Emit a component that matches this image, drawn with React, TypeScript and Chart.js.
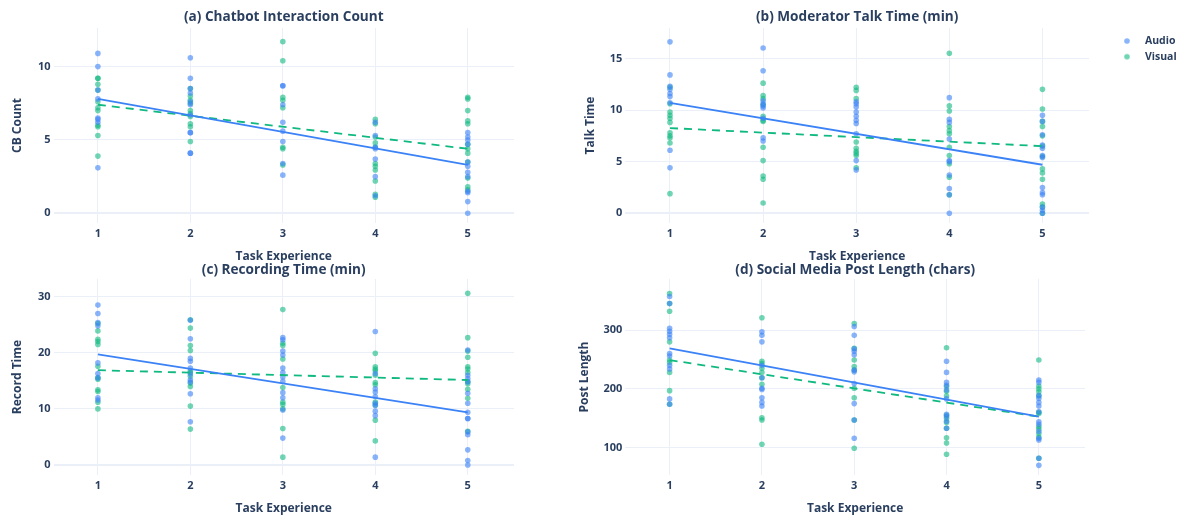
import React, { useEffect, useRef } from 'react';
import { Chart, registerables } from 'chart.js';

Chart.register(...registerables);

// ---------- data ----------
const taskLevels = [1, 2, 3, 4, 5];
const fitX = [1, 5];

// (a) Chatbot Interaction Count
const cbAudio = [
  [10.9, 10.0, 8.4, 7.8, 6.5, 6.4, 6.2, 3.1],
  [10.6, 9.2, 8.5, 8.2, 7.6, 7.4, 6.7, 5.5, 5.5, 4.1, 4.1],
  [8.7, 8.7, 7.4, 6.2, 5.6, 4.9, 3.4, 2.6],
  [6.2, 5.3, 4.5, 4.4, 3.7, 2.5, 1.2],
  [5.5, 5.2, 5.0, 4.7, 3.5, 3.2, 2.8, 2.5, 1.5, 1.4, 0.8, 0],
];
const cbVisual = [
  [9.2, 9.2, 8.8, 8.4, 7.6, 7.2, 7.0, 6.0, 5.9, 5.3, 3.9],
  [8.5, 8.0, 7.7, 7.5, 7.0, 6.8, 6.6, 6.1, 5.9, 4.9],
  [11.7, 10.4, 7.9, 7.7, 7.2, 4.5, 4.4, 3.3],
  [6.4, 6.1, 5.2, 4.8, 4.5, 3.4, 3.2, 2.95, 2.2, 1.3, 1.1],
  [7.9, 7.8, 7.0, 6.3, 6.1, 4.7, 4.4, 4.1, 3.5, 2.4, 1.8, 1.6],
];
const cbAudioFit = [7.8, 3.3];
const cbVisualFit = [7.4, 4.4];
const cbTicks = [0, 5, 10];
const cbRange = [-0.66, 12.63];

// (b) Moderator Talk Time (min)
const talkAudio = [
  [16.6, 13.4, 12.3, 12.0, 11.6, 11.3, 10.7, 6.1, 4.4],
  [16.0, 13.8, 10.9, 10.6, 10.4, 10.2, 9.2, 7.3, 7.0],
  [10.8, 10.6, 10.3, 9.8, 9.4, 9.0, 8.7, 7.7, 5.1, 4.2],
  [11.2, 9.1, 8.8, 7.2, 5.1, 5.0, 3.7, 2.4, 1.8, 0],
  [9.5, 8.9, 7.6, 6.6, 6.3, 5.6, 5.4, 2.5, 2.0, 1.8, 0.6, 0.3, 0],
];
const talkVisual = [
  [12.2, 10.6, 9.8, 9.5, 9.2, 8.8, 7.8, 7.5, 7.3, 6.8, 1.9],
  [12.6, 11.4, 11.1, 10.5, 9.4, 9.0, 8.9, 6.4, 5.1, 3.6, 3.3, 1.0],
  [12.2, 11.9, 11.1, 6.9, 6.3, 6.0, 5.8, 5.6, 4.4],
  [15.5, 10.4, 9.9, 8.4, 8.0, 7.7, 6.4, 5.6, 4.8, 3.5, 1.8],
  [12.0, 10.1, 8.9, 8.4, 7.5, 6.5, 5.5, 4.3, 3.9, 3.3, 0.9, 0.6, 0],
];
const talkAudioFit = [10.7, 4.7];
const talkVisualFit = [8.25, 6.5];
const talkTicks = [0, 5, 10, 15];
const talkRange = [-0.94, 17.94];

// (c) Recording Time (min)
const recAudio = [
  [28.5, 27.0, 25.4, 24.8, 18.2, 16.3, 15.5, 12.0, 11.6],
  [25.8, 22.5, 19.0, 18.5, 17.3, 16.2, 15.2, 14.8, 12.7, 7.7],
  [22.7, 22.3, 20.3, 19.6, 17.3, 16.5, 15.7, 14.9, 12.9, 12.0, 9.8, 4.8],
  [23.8, 16.3, 13.6, 13.0, 12.2, 11.0, 10.6, 9.6, 8.8, 1.4],
  [20.5, 16.0, 15.4, 14.8, 12.8, 11.0, 9.4, 8.3, 8.3, 5.9, 5.4, 2.7, 0.8, 0],
];
const recVisual = [
  [25.2, 23.9, 22.4, 22.0, 21.5, 17.6, 15.6, 15.3, 13.4, 13.1, 11.2, 10.0],
  [25.9, 24.4, 21.3, 20.4, 16.8, 16.5, 15.8, 14.6, 14.0, 10.5, 6.4],
  [27.7, 21.7, 21.3, 18.9, 13.8, 11.2, 10.8, 10.0, 6.5, 1.4],
  [19.9, 17.5, 17.1, 16.8, 16.0, 14.7, 14.3, 11.2, 10.7, 8.0, 4.3],
  [30.6, 22.7, 20.3, 19.2, 17.5, 17.1, 16.5, 14.9, 14.5, 13.5, 11.9, 6.0],
];
const recAudioFit = [19.7, 9.4];
const recVisualFit = [16.9, 15.15];
const recTicks = [0, 10, 20, 30];
const recRange = [-1.78, 33.15];

// (d) Social Media Post Length (chars)
const postAudio = [
  [357, 345, 303, 298, 293, 287, 260, 256, 240, 234, 183, 174],
  [297, 291, 280, 240, 219, 201, 199, 185, 177, 171],
  [306, 291, 268, 264, 258, 232, 229, 209, 175, 147, 116],
  [247, 228, 211, 206, 198, 183, 157, 153, 145, 133],
  [215, 211, 189, 184, 177, 171, 161, 144, 140, 128, 116, 113, 82, 70],
];
const postVisual = [
  [362, 345, 332, 280, 249, 245, 228, 197, 174],
  [321, 247, 243, 235, 228, 219, 208, 151, 147, 106],
  [311, 269, 249, 238, 232, 201, 185, 147, 99],
  [270, 204, 196, 188, 155, 150, 143, 133, 117, 108, 89],
  [249, 205, 200, 195, 188, 160, 158, 136, 132, 124, 118, 82],
];
const postAudioFit = [268.8, 152.7];
const postVisualFit = [249, 152.7];
const postTicks = [100, 200, 300];
const postRange = [53.6, 386.8];

// ---------- style ----------
const FONT = '"Open Sans", "Noto Sans", sans-serif';
const TEXT = '#2a3f5f';
const GRID = '#EBF0F8';
const AUDIO = '#3b82f6';
const VISUAL = '#10b981';
const AUDIO_FILL = 'rgba(59,130,246,0.6)';
const VISUAL_FILL = 'rgba(16,185,129,0.6)';
const MARKER_R = 2.8;

function makeMarker(color: string) {
  const c = document.createElement('canvas');
  c.width = 30;
  c.height = 8;
  const g = c.getContext('2d');
  if (g) {
    g.fillStyle = color;
    g.beginPath();
    g.arc(25, 4, MARKER_R, 0, Math.PI * 2);
    g.fill();
  }
  return c;
}

type PanelProps = {
  left: number;
  top: number;
  width: number;
  height: number;
  title: string;
  yTitle: string;
  range: number[];
  yTicks: number[];
  audio: number[][];
  visual: number[][];
  audioFit: number[];
  visualFit: number[];
  yAxisWidth: number;
  yTitlePad: number;
  xAxisHeight: number;
  xTitlePad: number;
  titlePad: { top: number; bottom: number };
  showLegend?: boolean;
};

function Panel(p: PanelProps) {
  const ref = useRef<HTMLCanvasElement | null>(null);
  useEffect(() => {
    const canvas = ref.current;
    if (!canvas) return;
    const axisFont = { family: FONT, size: 12, weight: 'bold' as const };
    const tickFont = { family: FONT, size: 11, weight: 'bold' as const };
    const legendFont = { family: FONT, size: 10.5, weight: 'bold' as const };
    const toPoints = (groups: number[][]) =>
      groups.flatMap((vals, i) => vals.map((v) => ({ x: taskLevels[i], y: v })));
    const toLine = (fit: number[]) => fitX.map((x, i) => ({ x, y: fit[i] }));
    const markers = [makeMarker(AUDIO_FILL), makeMarker(VISUAL_FILL)];

    const chart = new Chart(canvas, {
      type: 'scatter',
      data: {
        datasets: [
          {
            label: 'Audio',
            data: toPoints(p.audio),
            pointBackgroundColor: AUDIO_FILL,
            backgroundColor: AUDIO_FILL,
            pointBorderWidth: 0,
            pointBorderColor: 'rgba(0,0,0,0)',
            pointRadius: MARKER_R,
            order: 2,
          },
          {
            label: 'Visual',
            data: toPoints(p.visual),
            pointBackgroundColor: VISUAL_FILL,
            backgroundColor: VISUAL_FILL,
            pointBorderWidth: 0,
            pointBorderColor: 'rgba(0,0,0,0)',
            pointRadius: MARKER_R,
            order: 2,
          },
          {
            type: 'line',
            label: 'Audio fit',
            data: toLine(p.audioFit),
            borderColor: AUDIO,
            borderWidth: 1.8,
            pointRadius: 0,
            fill: false,
            tension: 0,
            order: 1,
          },
          {
            type: 'line',
            label: 'Visual fit',
            data: toLine(p.visualFit),
            borderColor: VISUAL,
            borderWidth: 1.8,
            borderDash: [8, 6],
            pointRadius: 0,
            fill: false,
            tension: 0,
            order: 1,
          },
        ] as any,
      },
      options: {
        animation: false,
        responsive: false,
        events: [],
        layout: { padding: 0 },
        plugins: {
          title: {
            display: true,
            text: p.title,
            fullSize: false,
            color: TEXT,
            font: { family: FONT, size: 13.6, weight: 'bold' },
            padding: p.titlePad,
          },
          tooltip: { enabled: false },
          legend: p.showLegend
            ? {
                display: true,
                position: 'right',
                align: 'start',
                fullSize: false,
                maxWidth: 91,
                title: { display: true, text: '', font: { size: 1 }, padding: { top: 1.35, bottom: 0 } },
                labels: {
                  usePointStyle: true,
                  pointStyleWidth: 45.5,
                  padding: 5.2,
                  color: TEXT,
                  font: legendFont,
                  generateLabels: (c: any) =>
                    (Chart.defaults.plugins.legend.labels.generateLabels as any)(c)
                      .filter((l: any) => l.datasetIndex < 2)
                      .map((l: any) => ({ ...l, pointStyle: markers[l.datasetIndex] })),
                },
              }
            : { display: false },
        } as any,
        scales: {
          x: {
            type: 'linear',
            min: 0.52,
            max: 5.5,
            afterBuildTicks: (s: any) => {
              s.ticks = taskLevels.map((v) => ({ value: v }));
            },
            afterFit: (s: any) => {
              s.height = p.xAxisHeight;
            },
            grid: { color: GRID, drawTicks: false, lineWidth: 1 },
            border: { display: false },
            ticks: { padding: 4.4, color: TEXT, font: tickFont, callback: (v: any) => String(v) },
            title: {
              display: true,
              text: 'Task Experience',
              color: TEXT,
              font: axisFont,
              padding: { top: 0, bottom: p.xTitlePad },
            },
          },
          y: {
            type: 'linear',
            min: p.range[0],
            max: p.range[1],
            afterBuildTicks: (s: any) => {
              s.ticks = p.yTicks.map((v) => ({ value: v }));
            },
            afterFit: (s: any) => {
              s.width = p.yAxisWidth;
            },
            grid: {
              color: GRID,
              drawTicks: false,
              lineWidth: (ctx: any) => (ctx.tick && ctx.tick.value === 0 ? 2 : 1),
            },
            border: { display: false },
            ticks: { padding: 3, color: TEXT, font: tickFont, callback: (v: any) => String(v) },
            title: {
              display: true,
              text: p.yTitle,
              color: TEXT,
              font: axisFont,
              padding: { top: p.yTitlePad, bottom: 0 },
            },
          },
        } as any,
      },
    });
    return () => chart.destroy();
  }, []);
  return (
    <canvas
      ref={ref}
      width={p.width}
      height={p.height}
      style={{ position: 'absolute', left: p.left, top: p.top, width: p.width, height: p.height }}
    />
  );
}

export default function App() {
  return (
    <div style={{ position: 'absolute', left: 0, top: 0, width: 1180, height: 517, background: '#fff', overflow: 'hidden' }}>
      <Panel
        left={0}
        top={0}
        width={518}
        height={270}
        title="(a) Chatbot Interaction Count"
        yTitle="CB Count"
        range={cbRange}
        yTicks={cbTicks}
        audio={cbAudio}
        visual={cbVisual}
        audioFit={cbAudioFit}
        visualFit={cbVisualFit}
        yAxisWidth={53.5}
        yTitlePad={10.8}
        xAxisHeight={47}
        xTitlePad={5.8}
        titlePad={{ top: 9.1, bottom: 2.6 }}
      />
      <Panel
        left={570}
        top={0}
        width={610}
        height={270}
        title="(b) Moderator Talk Time (min)"
        yTitle="Talk Time"
        range={talkRange}
        yTicks={talkTicks}
        audio={talkAudio}
        visual={talkVisual}
        audioFit={talkAudioFit}
        visualFit={talkVisualFit}
        yAxisWidth={55.3}
        yTitlePad={13.5}
        xAxisHeight={47}
        xTitlePad={5.8}
        titlePad={{ top: 9.1, bottom: 2.6 }}
        showLegend
      />
      <Panel
        left={0}
        top={255}
        width={518}
        height={262}
        title="(c) Recording Time (min)"
        yTitle="Record Time"
        range={recRange}
        yTicks={recTicks}
        audio={recAudio}
        visual={recVisual}
        audioFit={recAudioFit}
        visualFit={recVisualFit}
        yAxisWidth={53.5}
        yTitlePad={10.7}
        xAxisHeight={42}
        xTitlePad={0.8}
        titlePad={{ top: 6.8, bottom: 0.9 }}
      />
      <Panel
        left={570}
        top={255}
        width={519}
        height={262}
        title="(d) Social Media Post Length (chars)"
        yTitle="Post Length"
        range={postRange}
        yTicks={postTicks}
        audio={postAudio}
        visual={postVisual}
        audioFit={postAudioFit}
        visualFit={postVisualFit}
        yAxisWidth={55.3}
        yTitlePad={7}
        xAxisHeight={42}
        xTitlePad={0.8}
        titlePad={{ top: 6.8, bottom: 0.9 }}
      />
    </div>
  );
}
